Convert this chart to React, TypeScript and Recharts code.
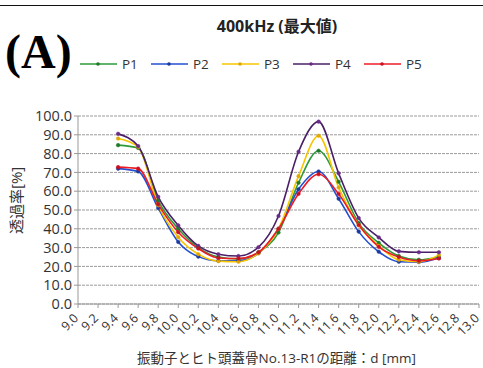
import React from "react";
import { LineChart, Line, XAxis, YAxis, CartesianGrid, Legend } from "recharts";

const distances = [9.4, 9.6, 9.8, 10.0, 10.2, 10.4, 10.6, 10.8, 11.0, 11.2, 11.4, 11.6, 11.8, 12.0, 12.2, 12.4, 12.6];
const p1 = [84.5, 83.0, 55.0, 40.0, 30.0, 25.0, 24.0, 27.5, 38.0, 64.5, 81.5, 65.0, 43.0, 32.5, 25.5, 23.5, 25.0];
const p2 = [72.0, 70.5, 51.0, 33.0, 25.2, 23.0, 23.0, 27.0, 40.0, 61.0, 70.5, 56.0, 38.5, 27.8, 22.5, 22.3, 24.5];
const p3 = [88.0, 83.5, 52.5, 35.5, 26.5, 22.8, 22.5, 27.0, 40.0, 68.0, 89.5, 62.0, 42.0, 31.0, 23.5, 22.5, 26.0];
const p4 = [90.5, 84.0, 57.0, 41.8, 30.9, 26.5, 25.5, 30.2, 46.8, 81.0, 97.0, 69.5, 45.7, 35.4, 28.0, 27.5, 27.5];
const p5 = [72.8, 72.0, 53.0, 38.2, 29.5, 24.5, 24.2, 27.5, 40.0, 58.6, 69.0, 58.5, 42.0, 30.4, 25.0, 23.0, 24.2];

const xTicks = [9.0, 9.2, 9.4, 9.6, 9.8, 10.0, 10.2, 10.4, 10.6, 10.8, 11.0, 11.2, 11.4, 11.6, 11.8, 12.0, 12.2, 12.4, 12.6, 12.8, 13.0];
const yTicks = [0, 10, 20, 30, 40, 50, 60, 70, 80, 90, 100];

const series = [
  { key: "P1", values: p1, color: "#2e9a3a", dot: "#1f7a2a" },
  { key: "P2", values: p2, color: "#2450d0", dot: "#1a3aa0" },
  { key: "P3", values: p3, color: "#f8c400", dot: "#e0a800" },
  { key: "P4", values: p4, color: "#4a1f66", dot: "#6a2a8a" },
  { key: "P5", values: p5, color: "#ee1c25", dot: "#cc1020" },
];

const data = distances.map((d, i) => {
  const row: Record<string, number> = { d };
  series.forEach((s) => {
    row[s.key] = s.values[i];
  });
  return row;
});

const FONT = "'Open Sans', 'Noto Sans CJK JP', sans-serif";

function XTick(props: any) {
  const { x, y, payload } = props;
  const ax = x + 1;
  const ay = y + 9;
  return (
    <text
      x={ax}
      y={ay}
      transform={`rotate(-45 ${ax} ${ay})`}
      textAnchor="end"
      fontSize={12.5}
      fill="#333"
      fontFamily={FONT}
    >
      {payload.value.toFixed(1)}
    </text>
  );
}

function LegendContent() {
  return (
    <div style={{ display: "flex", fontFamily: FONT, fontSize: 13.5, color: "#333" }}>
      {series.map((s) => (
        <div key={s.key} style={{ display: "flex", alignItems: "center", width: 71 }}>
          <svg width={38} height={10}>
            <line x1={0} y1={5} x2={37} y2={5} stroke={s.color} strokeWidth={1.5} />
            <circle cx={18} cy={5} r={1.8} fill={s.dot} />
          </svg>
          <span style={{ marginLeft: 4 }}>{s.key}</span>
        </div>
      ))}
    </div>
  );
}

export default function App() {
  return (
    <div style={{ position: "absolute", left: 0, top: 0, width: 483, height: 368, background: "#fff" }}>
      <div style={{ position: "absolute", left: 0, top: 5, width: 483, height: 1, background: "#111" }} />
      <div
        style={{
          position: "absolute",
          left: 0,
          top: 13,
          width: 554,
          textAlign: "center",
          fontFamily: FONT,
          fontWeight: "bold",
          fontSize: 16,
          color: "#222",
        }}
      >
        400kHz (最大値)
      </div>
      <div
        style={{
          position: "absolute",
          left: 5,
          top: 28,
          fontFamily: "'Liberation Serif', serif",
          fontWeight: "bold",
          fontSize: 48,
          color: "#000",
          lineHeight: 1,
        }}
      >
        (A)
      </div>
      <LineChart width={483} height={368} data={data} margin={{ top: 98, right: 4, left: 0, bottom: 0 }}>
        <CartesianGrid horizontal vertical={false} stroke="#9a9a9a" strokeDasharray="3 1" />
        <XAxis
          dataKey="d"
          type="number"
          domain={[9, 13]}
          ticks={xTicks}
          interval={0}
          height={64}
          tick={<XTick />}
          tickSize={4}
          axisLine={{ stroke: "#999" }}
          tickLine={{ stroke: "#999" }}
          label={{
            value: "振動子とヒト頭蓋骨No.13-R1の距離：d [mm]",
            position: "insideBottom",
            offset: 5,
            fontSize: 13.5,
            fill: "#333",
            fontFamily: FONT,
            dx: -2,
          }}
        />
        <YAxis
          type="number"
          domain={[0, 100]}
          ticks={yTicks}
          interval={0}
          width={78}
          tickFormatter={(v: number) => v.toFixed(1)}
          tick={{ fontSize: 14.5, fill: "#333", fontFamily: FONT }}
          tickSize={4}
          axisLine={{ stroke: "#999" }}
          tickLine={{ stroke: "#999" }}
          label={{
            value: "透過率[%]",
            angle: -90,
            position: "insideLeft",
            offset: 17,
            dy: 24,
            fontSize: 15,
            fill: "#333",
            fontFamily: FONT,
          }}
        />
        <Legend
          verticalAlign="top"
          content={<LegendContent />}
          wrapperStyle={{ position: "absolute", top: 55, left: 80, width: 400 }}
        />
        {series.map((s) => (
          <Line
            key={s.key}
            dataKey={s.key}
            type="monotone"
            stroke={s.color}
            strokeWidth={1.6}
            dot={{ r: 1.8, fill: s.dot, stroke: s.dot, strokeWidth: 0.5 }}
            isAnimationActive={false}
          />
        ))}
      </LineChart>
    </div>
  );
}
